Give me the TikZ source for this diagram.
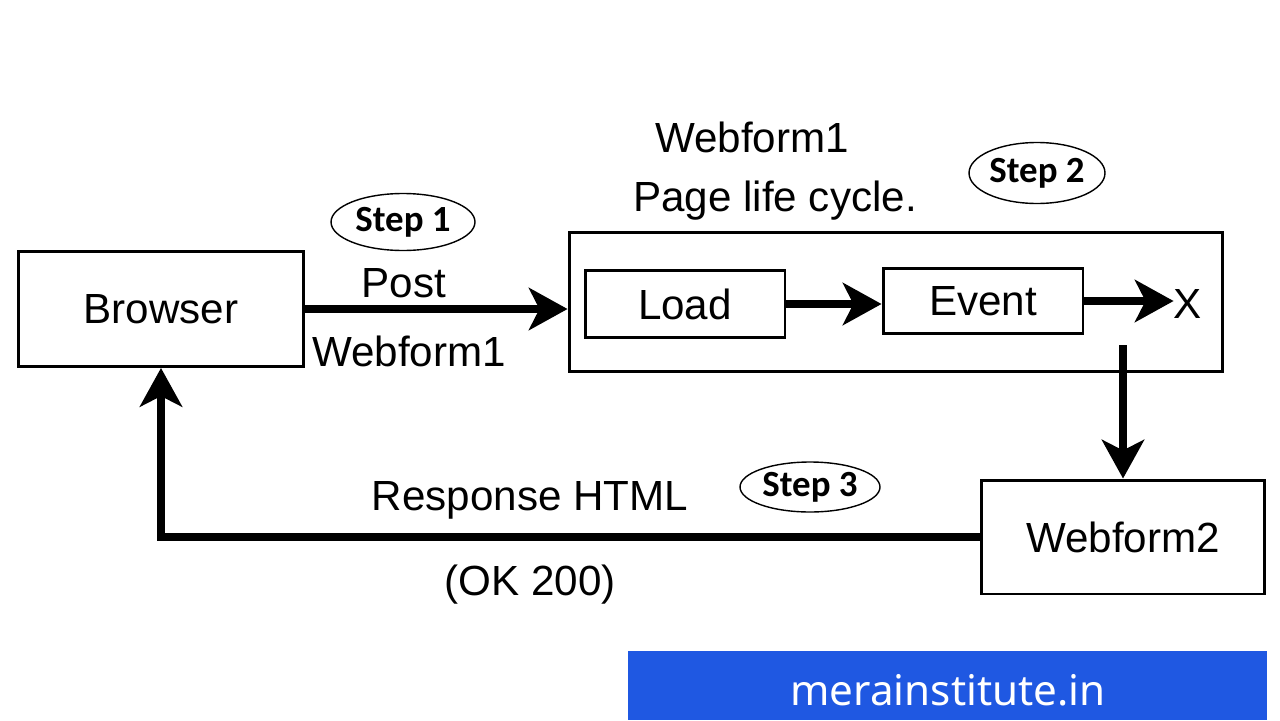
\documentclass[tikz,border=0pt]{standalone}
\usepackage{fontspec}
\setmainfont{Liberation Sans}
\newfontfamily\stepfont{Carlito}
\newfontfamily\sitefont{Noto Sans}
\usetikzlibrary{arrows.meta}
\usetikzlibrary{shapes.geometric}
\definecolor{siteblue}{RGB}{31,88,226}
\tikzset{
  box/.style={draw, line width=1.7pt, inner sep=0pt, font=\fontsize{24}{28}\selectfont},
  lbl/.style={inner sep=0pt, font=\fontsize{24}{28}\selectfont},
  flow/.style={line width=4.5pt, -{Stealth[length=22pt,width=24pt,inset=6pt]}},
  stepmark/.style={draw, ellipse, line width=0.8pt, inner sep=0pt, font=\stepfont\bfseries\fontsize{21}{24}\selectfont}
}

\begin{document}
\begin{tikzpicture}[x=0.02cm, y=-0.02cm]
    \useasboundingbox (0,0) rectangle (1280,720);

    % boxes
    \node[box, minimum width=5.7cm, minimum height=2.3cm] at (161, 309) (browser) {Browser};
    \node[box, minimum width=13.08cm, minimum height=2.8cm] at (896, 302) (outer) {};
    \node[box, minimum width=4cm, minimum height=1.34cm] at (685, 304) (load) {Load};
    \node[box, minimum width=4cm, minimum height=1.3cm] at (983, 301) (event) {Event};
    \node[lbl] at (1188, 304) (xmark) {X};
    \node[box, minimum width=5.66cm, minimum height=2.28cm] at (1123, 537) (wftwo) {Webform2};
    \coordinate (drop) at (1123, 345);

    % steps
    \node[stepmark, minimum width=2.88cm, minimum height=1.14cm] at (403, 222) (stepA) {Step 1};
    \node[stepmark, minimum width=2.72cm, minimum height=1.22cm] at (1037, 173) (stepB) {Step 2};
    \node[stepmark, minimum width=2.8cm, minimum height=1cm] at (810, 487) (stepC) {Step 3};

    % arrows
    \draw[flow] (browser.east) -- (browser.east -| outer.west);
    \draw[flow] (load.east) -- (load.east -| event.west);
    \draw[flow] (event.east) -- (event.east -| xmark.west);
    \draw[flow] (drop) -- (wftwo.north);
    \draw[flow] (wftwo.west) -| (browser.south);

    % labels
    \node[lbl] at (404, 283) {Post};
    \node[lbl] at (409, 351) {Webform1};
    \node[lbl] at (752, 137) {Webform1};
    \node[lbl] at (775, 201) {Page life cycle.};
    \node[lbl] at (530, 500) {Response HTML};
    \node[lbl] at (530, 585) {(OK 200)};

    % banner
    \fill[siteblue] (628, 651) rectangle (1267, 720);
    \node[text=white, inner sep=0pt, font=\sitefont\fontsize{24}{28}\selectfont] at (948, 690) {merainstitute.in};
\end{tikzpicture}
\end{document}
